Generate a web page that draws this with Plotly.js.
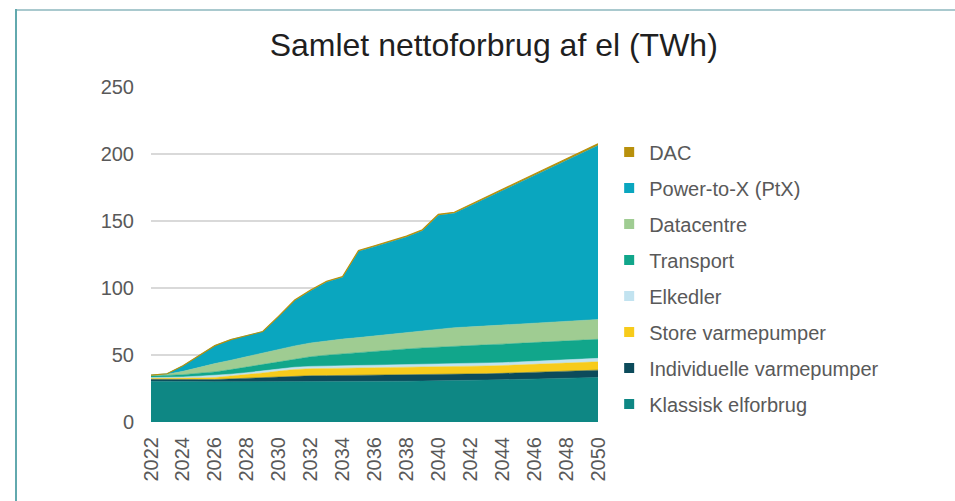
<!DOCTYPE html>
<html>
<head>
<meta charset="utf-8">
<script src="https://cdn.plot.ly/plotly-3.0.1.min.js"></script>
<style>
  html, body { margin: 0; padding: 0; background: #ffffff; }
  #wrap { position: relative; width: 955px; height: 501px; overflow: hidden; }
  #chart { position: absolute; left: 0; top: 0; width: 955px; height: 501px; }
  #bt { position: absolute; left: 16px; top: 9px; width: 939px; height: 2px; background: #a9c9ce; }
  #bl { position: absolute; left: 15px; top: 9px; width: 2px; height: 492px; background: #62a9ae; }
</style>
</head>
<body>
<div id="wrap">
  <div id="chart"></div>
  <div id="bt"></div>
  <div id="bl"></div>
</div>
<script>
const years = [2022,2023,2024,2025,2026,2027,2028,2029,2030,2031,2032,2033,2034,2035,2036,2037,2038,2039,2040,2041,2042,2043,2044,2045,2046,2047,2048,2049,2050];

const klassisk     = [30.4,30.2,30.0,30.0,30.0,30.0,30.0,30.0,30.0,30.0,30.0,30.0,30.1,30.2,30.3,30.4,30.5,30.6,30.7,30.9,31.1,31.3,31.5,31.8,32.1,32.4,32.7,33.0,33.3];
const individuelle = [1.5,1.5,1.6,1.7,1.7,2.2,2.7,3.2,3.7,4.2,4.5,4.6,4.6,4.6,4.6,4.6,4.6,4.6,4.6,4.6,4.6,4.7,4.8,4.9,5.0,5.1,5.2,5.3,5.4];
const storeVP      = [0.8,0.9,1.0,1.2,1.5,2.0,2.6,3.4,4.3,5.0,5.3,5.5,5.6,5.6,5.6,5.7,5.7,5.7,5.7,5.7,5.7,5.8,5.8,5.9,5.9,6.0,6.0,6.1,6.2];
const elkedler     = [0.5,0.7,1.0,1.3,1.5,1.5,1.5,1.5,1.6,1.7,1.7,1.8,1.8,1.8,1.9,1.9,1.9,2.0,2.0,2.0,2.0,2.1,2.2,2.2,2.3,2.4,2.4,2.5,2.6];
const transport    = [1.1,1.3,1.7,2.2,2.7,3.4,4.2,5.0,5.5,6.3,7.2,8.0,8.8,9.7,10.5,11.2,11.8,12.4,13.0,13.4,13.6,13.7,13.8,13.9,14.0,14.0,14.1,14.2,14.2];
const datacentre   = [0.7,1.0,2.5,4.5,6.2,7.0,7.8,8.5,8.8,9.6,10.3,10.7,11.0,11.1,11.3,11.8,12.3,12.8,13.3,13.8,14.0,14.1,14.2,14.3,14.4,14.5,14.6,14.7,14.8];
const ptx          = [0.0,0.4,4.2,8.6,13.4,15.4,15.7,15.9,24.8,33.8,39.0,43.9,46.1,64.4,66.6,68.9,71.2,74.6,84.9,85.3,90.3,95.3,100.3,105.2,110.2,115.2,120.2,125.0,129.9];
const dac          = [0.0,0.0,0.0,0.0,0.0,0.0,0.0,0.0,0.3,0.4,0.5,0.5,0.6,0.6,0.7,0.7,0.7,0.8,0.8,0.8,0.9,0.9,0.9,1.0,1.0,1.0,1.1,1.1,1.2];

const seriesNames = ["Klassisk elforbrug","Individuelle varmepumper","Store varmepumper","Elkedler","Transport","Datacentre","Power-to-X (PtX)","DAC"];
const seriesData = [klassisk, individuelle, storeVP, elkedler, transport, datacentre, ptx, dac];
const seriesColors = ["#0e8784","#0c4b5b","#f7cb1b","#c2e3f0","#11a68b","#9fcc92","#0aa6bf","#b8900c"];

const xTicks = [2022,2024,2026,2028,2030,2032,2034,2036,2038,2040,2042,2044,2046,2048,2050];
const yTicks = [0,50,100,150,200,250];

const FONT = "Liberation Sans, Arial, sans-serif";
const traces = [];
seriesNames.forEach((name, i) => {
  traces.push({
    type: "scatter",
    x: years,
    y: seriesData[i],
    name: name,
    stackgroup: "one",
    mode: "lines",
    line: { color: seriesColors[i], width: name === "DAC" ? 1.2 : 0.5, shape: "linear" },
    fillcolor: seriesColors[i],
    legendgroup: name,
    showlegend: false,
    hovertemplate: name + ": %{y}<extra></extra>"
  });
});
seriesNames.forEach((name, i) => {
  traces.push({
    type: "scatter",
    x: [null],
    y: [null],
    name: name,
    mode: "markers",
    marker: { symbol: "square", size: 10, color: seriesColors[i] },
    legendgroup: name,
    legendrank: 100 - i,
    showlegend: true,
    hoverinfo: "skip"
  });
});

const layout = {
  width: 955,
  height: 501,
  paper_bgcolor: "#ffffff",
  plot_bgcolor: "#ffffff",
  margin: { l: 151, r: 357, t: 87, b: 79, pad: 0 },
  title: {
    text: "Samlet nettoforbrug af el (TWh)",
    font: { family: FONT, size: 32, color: "#1f1f1f" },
    x: 0.517, xanchor: "center",
    y: 0.91, yanchor: "middle"
  },
  font: { family: FONT, color: "#595959" },
  xaxis: {
    range: [2022, 2050],
    tickvals: xTicks,
    ticktext: xTicks.map(String),
    tickangle: -90,
    tickfont: { family: FONT, size: 20, color: "#595959" },
    showgrid: false,
    zeroline: false,
    showline: false,
    ticks: "",
    ticklabelstandoff: 10,
    fixedrange: true
  },
  yaxis: {
    range: [0, 250],
    tickvals: yTicks,
    tickfont: { family: FONT, size: 20, color: "#595959" },
    showgrid: true,
    gridcolor: "#d9d9d9",
    gridwidth: 1.3,
    zeroline: false,
    showline: false,
    ticks: "",
    ticklabelstandoff: 16,
    fixedrange: true
  },
  showlegend: true,
  legend: {
    x: 1.025, xanchor: "left",
    y: 0.864, yanchor: "top",
    traceorder: "grouped",
    tracegroupgap: 7,
    font: { family: FONT, size: 20, color: "#595959" },
    bgcolor: "rgba(0,0,0,0)",
    itemwidth: 30
  }
};

Plotly.newPlot("chart", traces, layout, { displayModeBar: false, staticPlot: true });
</script>
</body>
</html>
